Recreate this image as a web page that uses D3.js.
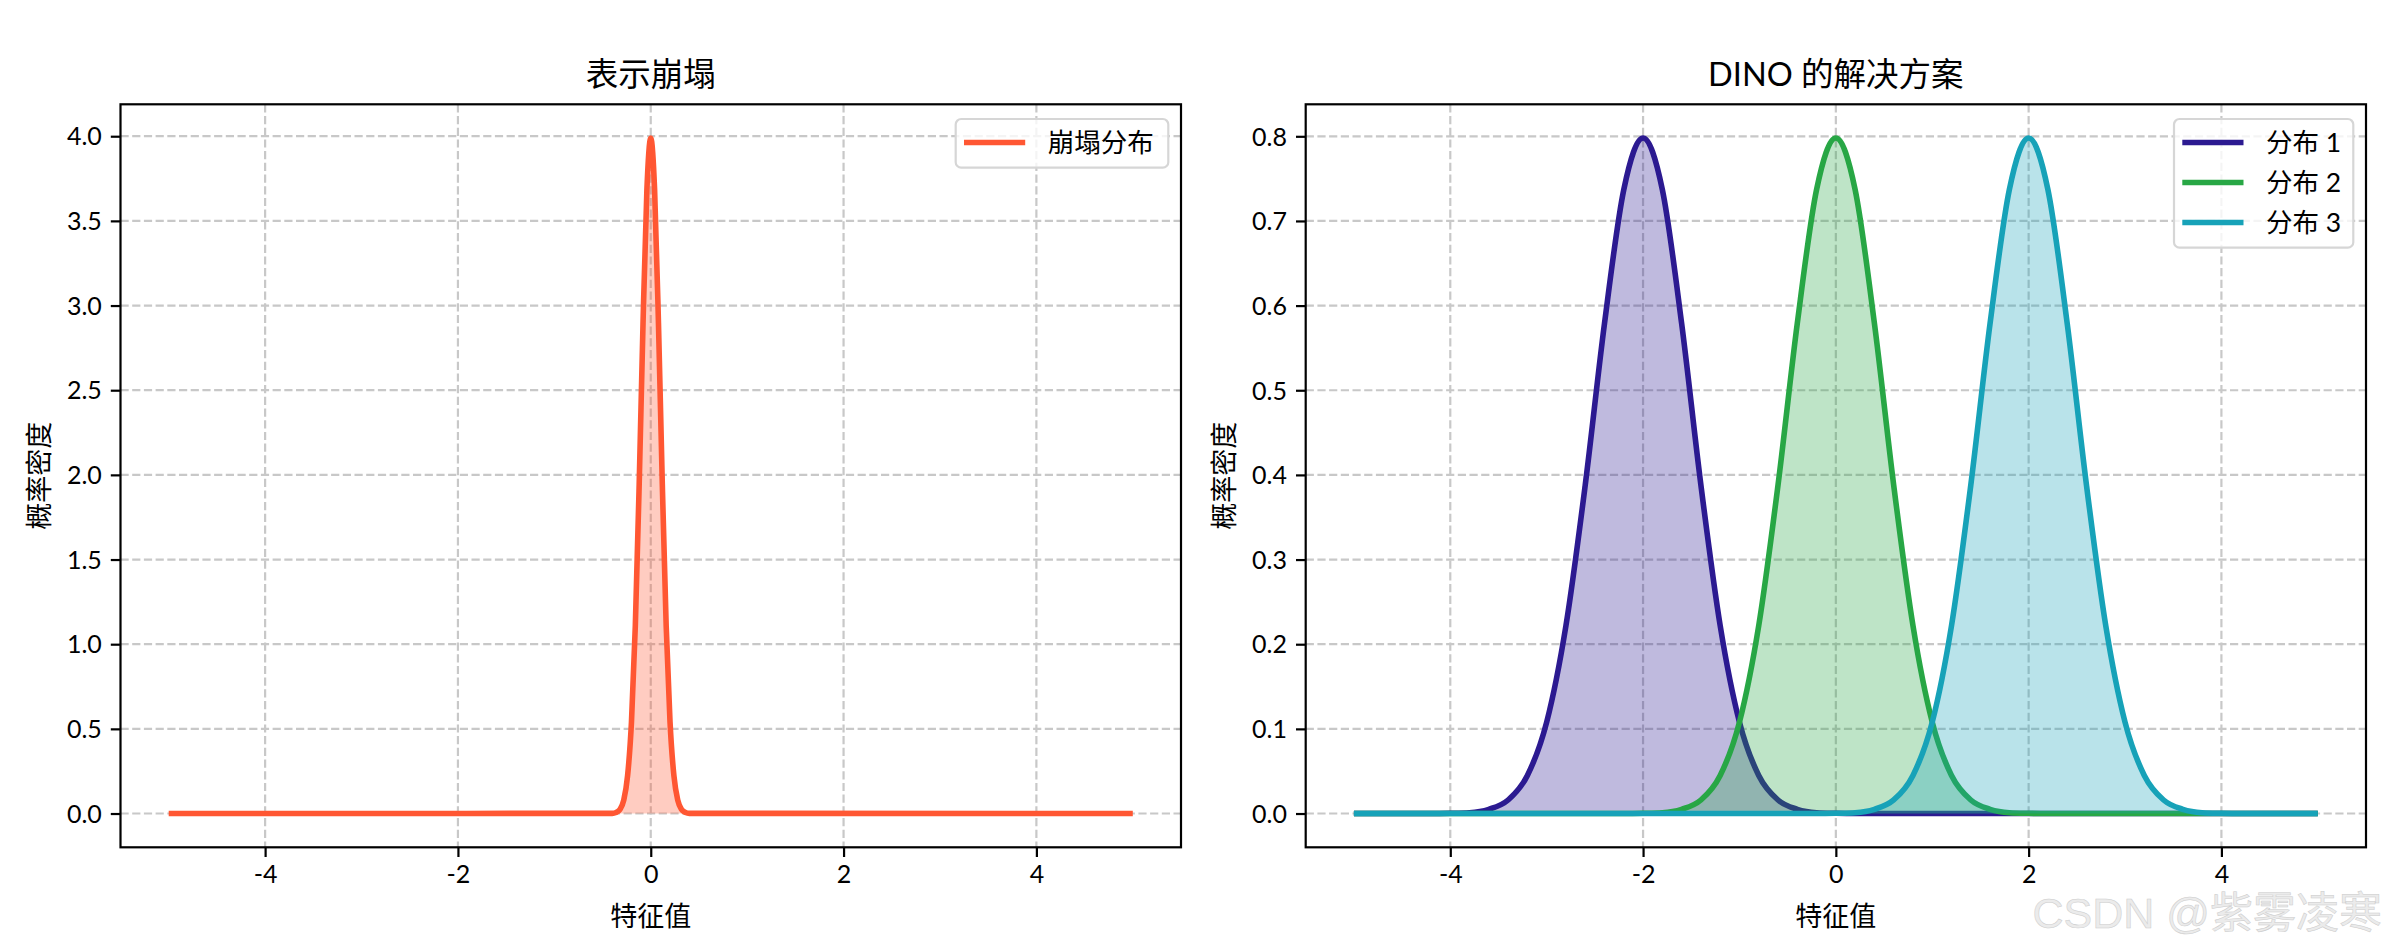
<!DOCTYPE html>
<html>
<head>
<meta charset="utf-8">
<script src="https://cdn.jsdelivr.net/npm/d3@7"></script>
<style>
  html, body { margin: 0; padding: 0; background: #ffffff; }
  svg { display: block; }
  .lat { font-family: "Lato", "Noto Sans CJK SC", sans-serif; }
  .cjk { font-family: "Lato", "Noto Sans CJK SC", sans-serif; }
</style>
</head>
<body>
<svg id="chart" width="2390" height="952"></svg>
<script>
// ---------------- data ----------------
const titles = ["表示崩塌", "DINO 的解决方案"];
const xLabel = "特征值";
const yLabel = "概率密度";
const xTicks = [-4, -2, 0, 2, 4];
const yTicksLeft = [0.0, 0.5, 1.0, 1.5, 2.0, 2.5, 3.0, 3.5, 4.0];
const yTicksRight = [0.0, 0.1, 0.2, 0.3, 0.4, 0.5, 0.6, 0.7, 0.8];

// left panel: collapsed distribution
const collapseName = "崩塌分布";
const collapseX = [-5, -0.4, -0.36, -0.32, -0.28, -0.24, -0.2, -0.16, -0.12, -0.08, -0.04, 0,
                   0.04, 0.08, 0.12, 0.16, 0.2, 0.24, 0.28, 0.32, 0.36, 0.4, 5];
const collapseY = [0, 0.001, 0.006, 0.024, 0.079, 0.224, 0.540, 1.109, 1.942, 2.897, 3.683, 3.989,
                   3.683, 2.897, 1.942, 1.109, 0.540, 0.224, 0.079, 0.024, 0.006, 0.001, 0];

// right panel: three separated distributions
const distNames = ["分布 1", "分布 2", "分布 3"];
const distX = [-5, -4.2, -4.0, -3.8, -3.6, -3.4, -3.2, -3.0, -2.8, -2.6, -2.4, -2.2, -2.0,
               -1.8, -1.6, -1.4, -1.2, -1.0, -0.8, -0.6, -0.4, -0.2, 0, 0.2, 0.4, 0.6, 0.8,
               1.0, 1.2, 1.4, 1.6, 1.8, 2.0, 2.2, 2.4, 2.6, 2.8, 3.0, 3.2, 3.4, 3.6, 3.8, 4.0, 4.2, 5];
const dist1 = [0, 0, 0.0003, 0.001, 0.005, 0.016, 0.045, 0.108, 0.222, 0.388, 0.579, 0.737, 0.798,
               0.737, 0.579, 0.388, 0.222, 0.108, 0.045, 0.016, 0.005, 0.001, 0.0003, 0, 0, 0, 0,
               0, 0, 0, 0, 0, 0, 0, 0, 0, 0, 0, 0, 0, 0, 0, 0, 0, 0];
const dist2 = [0, 0, 0, 0, 0, 0, 0, 0, 0, 0, 0, 0, 0.0003,
               0.001, 0.005, 0.016, 0.045, 0.108, 0.222, 0.388, 0.579, 0.737, 0.798, 0.737, 0.579, 0.388, 0.222,
               0.108, 0.045, 0.016, 0.005, 0.001, 0.0003, 0, 0, 0, 0, 0, 0, 0, 0, 0, 0, 0, 0];
const dist3 = [0, 0, 0, 0, 0, 0, 0, 0, 0, 0, 0, 0, 0,
               0, 0, 0, 0, 0, 0, 0, 0, 0, 0.0003, 0.001, 0.005, 0.016, 0.045,
               0.108, 0.222, 0.388, 0.579, 0.737, 0.798, 0.737, 0.579, 0.388, 0.222, 0.108, 0.045, 0.016, 0.005, 0.001, 0.0003, 0, 0];

const watermark = "CSDN @紫雾凌寒";

// ---------------- styles ----------------
const collapseColor = "#FF5733";
const distColors = ["#2C1A91", "#28A745", "#17A2B8"];
const LW = 5.6;
const gridColor = "#c8c8c8";

const svg = d3.select("#chart");
svg.append("rect").attr("width", 2390).attr("height", 952).attr("fill", "#ffffff");

const panelTop = 104.3, panelBottom = 847.3;
const panels = [
  { left: 120.5, right: 1181, yDomain: [-0.1995, 4.1885], yTicks: yTicksLeft, title: titles[0] },
  { left: 1305.7, right: 2366, yDomain: [-0.0399, 0.8378], yTicks: yTicksRight, title: titles[1] }
];

function drawPanel(p, series) {
  const x = d3.scaleLinear().domain([-5.5, 5.5]).range([p.left, p.right]);
  const y = d3.scaleLinear().domain(p.yDomain).range([panelBottom, panelTop]);
  const g = svg.append("g");
  const clipId = "clip" + Math.round(p.left);
  svg.append("clipPath").attr("id", clipId).append("rect")
    .attr("x", p.left).attr("y", panelTop).attr("width", p.right - p.left).attr("height", panelBottom - panelTop);

  // grid
  const grid = g.append("g");
  xTicks.forEach(t => grid.append("line")
    .attr("x1", x(t)).attr("x2", x(t)).attr("y1", panelTop).attr("y2", panelBottom)
    .attr("stroke", gridColor).attr("stroke-width", 2.2).attr("stroke-dasharray", "8.2,3.5"));
  p.yTicks.forEach(t => grid.append("line")
    .attr("y1", y(t)).attr("y2", y(t)).attr("x1", p.left).attr("x2", p.right)
    .attr("stroke", gridColor).attr("stroke-width", 2.2).attr("stroke-dasharray", "8.2,3.5"));

  // data
  const plot = g.append("g").attr("clip-path", `url(#${clipId})`);
  series.forEach(s => {
    const pts = s.xs.map((v, i) => [v, s.ys[i]]);
    const line = d3.line().x(d => x(d[0])).y(d => y(d[1])).curve(d3.curveMonotoneX);
    const area = d3.area().x(d => x(d[0])).y0(y(0)).y1(d => y(d[1])).curve(d3.curveMonotoneX);
    plot.append("path").attr("d", line(pts)).attr("fill", "none")
      .attr("stroke", s.color).attr("stroke-width", LW).attr("stroke-linejoin", "round");
    plot.append("path").attr("d", area(pts)).attr("fill", s.color).attr("fill-opacity", 0.3);
  });

  // axes
  const xAxis = d3.axisBottom(x).tickValues(xTicks).tickSize(9.7).tickPadding(8).tickFormat(d3.format("d"));
  const yAxis = d3.axisLeft(y).tickValues(p.yTicks).tickSize(9.7).tickPadding(9).tickFormat(d3.format(".1f"));
  const xa = g.append("g").attr("transform", `translate(0,${panelBottom})`).call(xAxis);
  const ya = g.append("g").attr("transform", `translate(${p.left},0)`).call(yAxis);
  [xa, ya].forEach(a => {
    a.select(".domain").remove();
    a.selectAll(".tick line").attr("stroke", "#000").attr("stroke-width", 2.2);
    a.selectAll(".tick text").attr("class", "lat").attr("font-size", 25).attr("fill", "#000");
  });
  xa.selectAll(".tick text").attr("dy", "0.71em").text(d => d < 0 ? "-" + Math.abs(d) : d);
  ya.selectAll(".tick text").attr("dy", "0.35em").text(d => (d < 0 ? "-" : "") + Math.abs(d).toFixed(1));

  // spines
  g.append("rect").attr("x", p.left).attr("y", panelTop)
    .attr("width", p.right - p.left).attr("height", panelBottom - panelTop)
    .attr("fill", "none").attr("stroke", "#000").attr("stroke-width", 2.2);

  // title & labels
  const cx = (p.left + p.right) / 2;
  g.append("text").attr("class", "cjk").attr("x", cx).attr("y", 86)
    .attr("text-anchor", "middle").attr("font-size", 32.5).attr("fill", "#000").text(p.title);
  g.append("text").attr("class", "cjk").attr("x", cx).attr("y", 926)
    .attr("text-anchor", "middle").attr("font-size", 27).attr("fill", "#000").text(xLabel);
  g.append("text").attr("class", "cjk")
    .attr("transform", `translate(${p.left - 72},${(panelTop + panelBottom) / 2}) rotate(-90)`)
    .attr("text-anchor", "middle").attr("font-size", 27).attr("fill", "#000").text(yLabel);

  // legend
  const rowH = 40;
  const boxW = series.length === 1 ? 212.6 : 179.3;
  const boxH = 8.7 + rowH * series.length;
  const bx = p.right - 12.7 - boxW, by = panelTop + 14.7;
  const lg = g.append("g");
  lg.append("rect").attr("x", bx).attr("y", by).attr("width", boxW).attr("height", boxH)
    .attr("rx", 5.5).attr("fill", "#ffffff").attr("fill-opacity", 0.8)
    .attr("stroke", "#d6d6d6").attr("stroke-width", 2.2);
  series.forEach((s, i) => {
    const yy = by + 23.5 + i * rowH;
    lg.append("line").attr("x1", bx + 8.3).attr("x2", bx + 69.5).attr("y1", yy).attr("y2", yy)
      .attr("stroke", s.color).attr("stroke-width", LW);
    lg.append("text").attr("class", "cjk").attr("x", bx + 92).attr("y", yy).attr("dy", "0.36em")
      .attr("font-size", 26.5).attr("fill", "#000").text(s.name);
  });
}

drawPanel(panels[0], [{ xs: collapseX, ys: collapseY, color: collapseColor, name: collapseName }]);
drawPanel(panels[1], [
  { xs: distX, ys: dist1, color: distColors[0], name: distNames[0] },
  { xs: distX, ys: dist2, color: distColors[1], name: distNames[1] },
  { xs: distX, ys: dist3, color: distColors[2], name: distNames[2] }
]);

// watermark
svg.append("text").attr("x", 2382).attr("y", 928).attr("text-anchor", "end")
  .attr("font-family", "Liberation Sans, Arial, 'Noto Sans CJK SC', sans-serif")
  .attr("font-size", 43).attr("fill", "#ebebeb").attr("stroke", "#cccccc").attr("stroke-width", 0.5)
  .text(watermark);
</script>
</body>
</html>
